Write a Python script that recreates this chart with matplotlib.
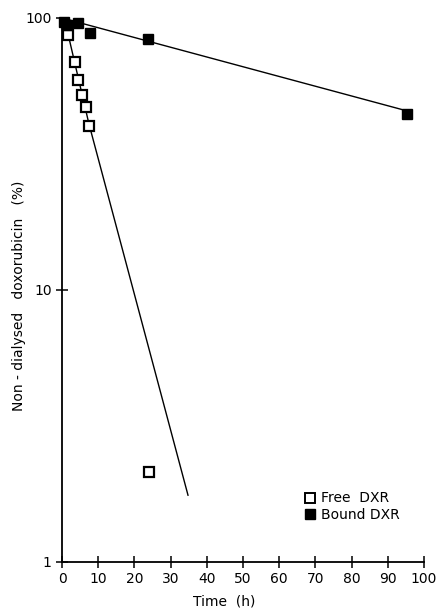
import matplotlib
matplotlib.use('Agg')
import matplotlib.pyplot as plt
from matplotlib.lines import Line2D

## Data

free_t = [1.7, 3.7, 4.5, 5.6, 6.5, 7.4, 24]
free_pct = [86.5, 69, 59, 52, 47, 40, 2.15]
free_fit_t = [0, 1.7, 7.4, 34.8]
free_fit_pct = [100, 87, 41, 1.76]

bound_t = [0.5, 1.5, 4.5, 7.7, 23.8, 95.4]
bound_pct = [97, 94, 96, 88, 83.5, 44.4]
bound_fit_t = [0, 95.4]
bound_fit_pct = [100, 45.5]

x_ticks = list(range(0, 101, 10))

fig = plt.figure(figsize=(4.41, 6.08), dpi=100)
ax = fig.add_axes([0.1406, 0.0757, 0.821, 0.8947])

ax.plot(free_fit_t, free_fit_pct, color='black', lw=1.0)
ax.plot(bound_fit_t, bound_fit_pct, color='black', lw=1.0)
ax.plot(free_t, free_pct, 's', ms=7.5, mfc='white', mec='black', mew=1.6, clip_on=False)
ax.plot(bound_t, bound_pct, 's', ms=7.5, mfc='black', mec='black', clip_on=False)

ax.set_yscale('log')
ax.set_ylim(1, 100)
ax.set_xlim(0, 100)
ax.set_yticks([1, 10, 100])
ax.set_yticklabels(['1', '10', '100'])
ax.yaxis.set_minor_locator(matplotlib.ticker.NullLocator())
ax.set_xticks(x_ticks)

ax.spines['top'].set_visible(False)
ax.spines['right'].set_visible(False)
ax.spines['left'].set_linewidth(1.3)
ax.spines['bottom'].set_linewidth(1.3)
ax.tick_params(axis='both', direction='inout', length=8, width=1.1, labelsize=10)

ax.set_xlabel('Time  (h)', fontsize=10)
ax.xaxis.set_label_coords(0.448, -0.06)
ax.set_ylabel('Non - dialysed   doxorubicin   (%)', fontsize=10)
ax.yaxis.set_label_coords(-0.10, 0.49)

handles = [
    Line2D([], [], ls='none', marker='s', ms=7, mfc='white', mec='black', mew=1.4),
    Line2D([], [], ls='none', marker='s', ms=7, mfc='black', mec='black'),
]
ax.legend(handles, ['Free  DXR', 'Bound DXR'], loc='lower left',
          bbox_to_anchor=(0.63, 0.05), frameon=False, fontsize=10,
          handletextpad=0.3, labelspacing=0.2, handlelength=1.0)

plt.savefig('out.png', dpi=100)
